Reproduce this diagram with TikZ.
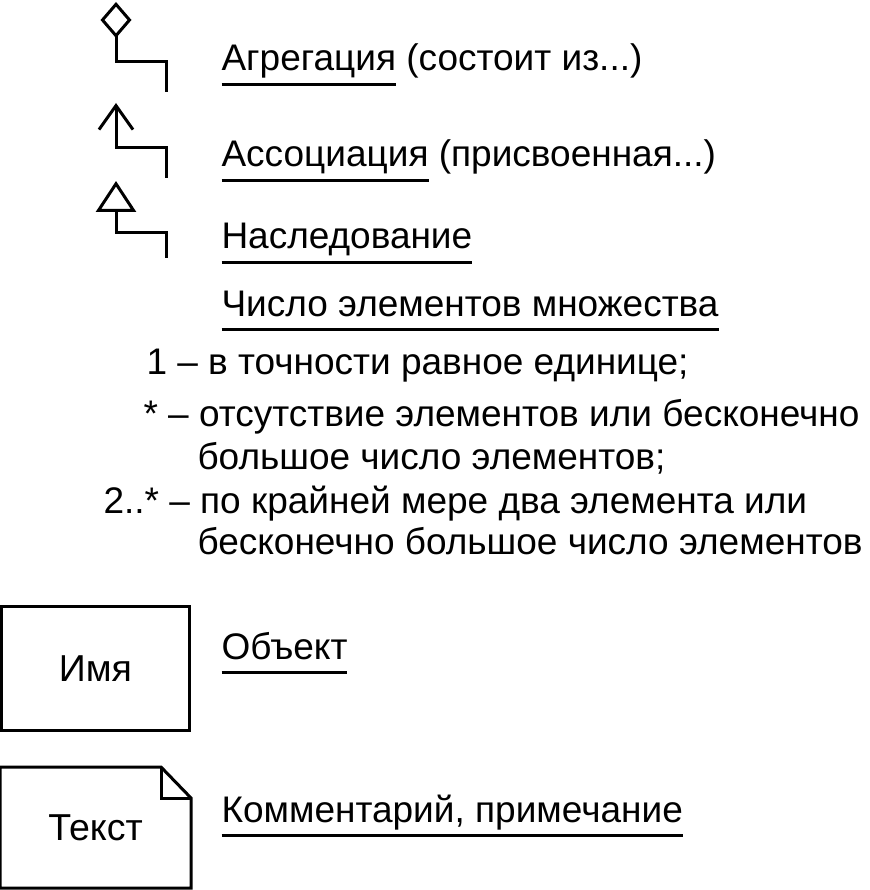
\documentclass[tikz,border=0pt]{standalone}
\usepackage{fontspec}
\setmainfont{Liberation Sans}
\usetikzlibrary{arrows.meta}
\newcommand\ulword[1]{\setbox0\hbox{#1}\rlap{\rule[-15pt]{\wd0}{3pt}}\box0\relax}

\begin{document}
\begin{tikzpicture}[x=1pt,y=-1pt,line width=3pt,
  lbl/.style={anchor=base west,inner sep=0pt,font=\fontsize{37}{44}\selectfont},
  box/.style={draw,minimum width=188pt,inner sep=0pt,font=\fontsize{37.5}{44}\selectfont},
  aggtip/.style={{Diamond[open,length=36pt,width=31pt]}-},
  asctip/.style={{Straight Barb[length=24pt,width=34pt]}-},
  inhtip/.style={{Triangle[open,length=31pt,width=40pt]}-}]
\useasboundingbox (0,0) rectangle (869,890);
\coordinate (aggT) at (116,2);   \coordinate (aggE) at (166,92);
\coordinate (ascT) at (116,103); \coordinate (ascE) at (166,178);
\coordinate (inhT) at (116,181); \coordinate (inhE) at (166,258);
\draw[aggtip] (aggT) |- ([yshift=30pt]aggE) -- (aggE);
\draw[asctip] (ascT) |- ([yshift=30pt]ascE) -- (ascE);
\draw[inhtip] (inhT) |- ([yshift=25pt]inhE) -- (inhE);
\node[lbl] (agr) at (220,71) {\ulword{Агрегация} (состоит из...)};
\node[lbl] (asc) at (220,167) {\ulword{Ассоциация} (присвоенная...)};
\node[lbl] (inh) at (220,249) {\ulword{Наследование}};
\node[lbl] (mult) at (220,316) {\ulword{Число элементов множества}};
\node[lbl] (one) at (145,374) {1 – в точности равное единице;};
\node[lbl] (star) at (142,426) {* – отсутствие элементов или бесконечно};
\node[lbl] (star2) at (196,469) {большое число элементов;};
\node[lbl] (two) at (102,513) {2..* – по крайней мере два элемента или};
\node[lbl] (two2) at (196,554) {бесконечно большое число элементов};
\node[box,minimum height=124pt] (obj) at (95.5,668.5) {Имя};
\node[lbl] (objl) at (220,659) {\ulword{Объект}};
\node[box,draw=none,minimum height=118pt] (note) at (95.5,827.5) {Текст};
\draw (note.south west) |- ([xshift=-30pt]note.north east) -- ([yshift=-31pt]note.north east) -- (note.south east) -- cycle;
\draw ([xshift=-30pt]note.north east) |- ([yshift=-31pt]note.north east);
\node[lbl] (notel) at (220,822) {\ulword{Комментарий, примечание}};
\end{tikzpicture}
\end{document}
